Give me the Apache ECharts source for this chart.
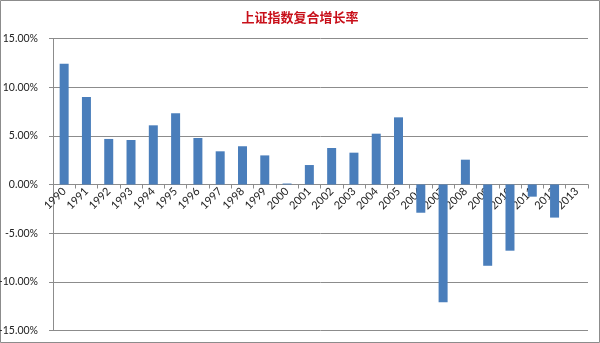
<!DOCTYPE html>
<html><head><meta charset="utf-8">
<script src="https://cdn.jsdelivr.net/npm/echarts@6/dist/echarts.min.js"></script>
<style>html,body{margin:0;padding:0;background:#fff}#c{width:600px;height:343px}</style>
</head><body><div id="c"></div>
<script>
var years = ['1990','1991','1992','1993','1994','1995','1996','1997','1998','1999','2000','2001','2002','2003','2004','2005','2006','2007','2008','2009','2010','2011','2012','2013'];
var growth = [12.4, 9.0, 4.68, 4.57, 6.08, 7.32, 4.78, 3.41, 3.93, 2.99, 0.1, 2.0, 3.75, 3.27, 5.22, 6.9, -2.9, -12.1, 2.55, -8.35, -6.8, -1.25, -3.4, 0];
var yTicks = {min: -15, max: 15, step: 5};
var titleText = '上证指数复合增长率';

var gridTop = 38.5, gridBottom = 12.5, H = 343;
var plotH = H - gridTop - gridBottom;
// distance from bottom of plot to the zero line, derived from the y scale
var zeroOffset = -plotH * (0 - yTicks.min) / (yTicks.max - yTicks.min);

var chart = echarts.init(document.getElementById('c'), null, {renderer: 'canvas'});
chart.setOption({
  animation: false,
  backgroundColor: '#fff',
  title: {text: titleText, left: 'center', top: 6,
    textStyle: {color: '#C8101A', fontSize: 13, fontWeight: 'bold', fontFamily: 'Noto Sans CJK SC'}},
  graphic: [{type: 'rect', shape: {x: 0.5, y: 0.5, width: 599, height: 342},
    style: {fill: 'none', stroke: '#8c8c8c', lineWidth: 1}, silent: true}],
  grid: {left: 53, right: 12, top: gridTop, bottom: gridBottom, containLabel: false, outerBoundsMode: 'none'},
  xAxis: {
    type: 'category', data: years, position: 'bottom', offset: zeroOffset,
    axisLine: {show: true, onZero: false, lineStyle: {color: '#8c8c8c', width: 1}},
    axisTick: {show: true, interval: 0, length: 4, lineStyle: {color: '#8c8c8c'}},
    axisLabel: {interval: 0, rotate: 45, margin: 5, fontSize: 11, color: '#222', fontFamily: 'Lato'},
    splitLine: {show: false}
  },
  yAxis: {
    type: 'value', min: yTicks.min, max: yTicks.max, interval: yTicks.step,
    axisLine: {show: true, onZero: false, lineStyle: {color: '#8c8c8c'}},
    axisTick: {show: true, length: 4, lineStyle: {color: '#8c8c8c'}},
    axisLabel: {fontSize: 10.5, color: '#222', margin: 15, fontFamily: 'Lato',
      formatter: function (v) { return v.toFixed(2) + '%'; }},
    splitLine: {show: true, lineStyle: {color: '#8c8c8c', width: 1}}
  },
  series: [{
    type: 'bar', data: growth, barWidth: 9, z: 5,
    itemStyle: {color: '#4A7EBB'}
  }]
});
</script></body></html>
